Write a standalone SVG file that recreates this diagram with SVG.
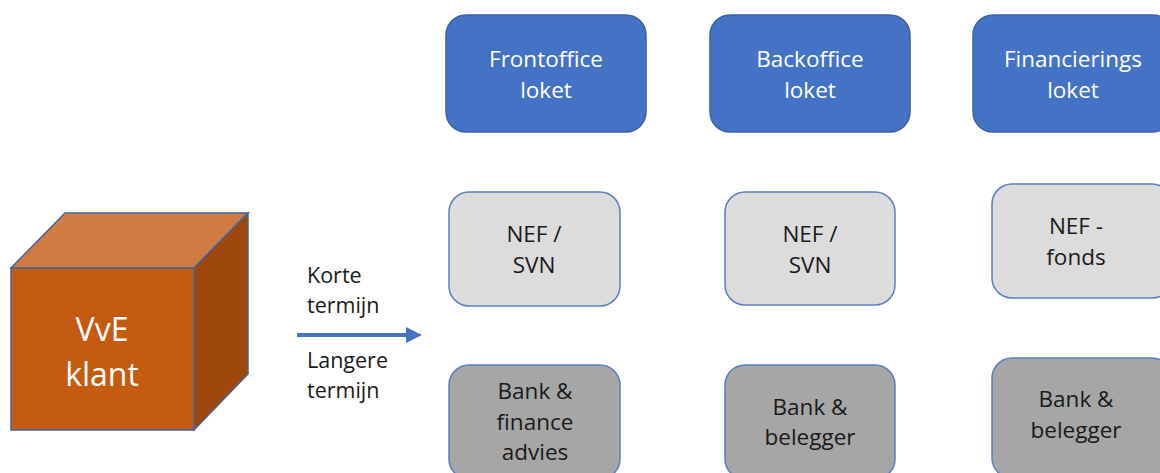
<svg xmlns="http://www.w3.org/2000/svg" width="1160" height="473" viewBox="0 0 1160 473">
<style>
.t{font-family:"Open Sans","Liberation Sans",sans-serif;text-anchor:middle;}
.w{fill:#ffffff;font-size:22.5px;}
.k{fill:#1a1a1a;font-size:22.5px;}
.blue{fill:#4472C4;stroke:#3A62A8;stroke-width:1.5;}
.lg{fill:#DCDCDC;stroke:#5B7FBF;stroke-width:1.5;}
.dg{fill:#A6A6A6;stroke:#5B7FBF;stroke-width:1.5;}
.lbl{font-family:"Open Sans","Liberation Sans",sans-serif;fill:#1a1a1a;font-size:21.5px;}
</style>
<rect width="1160" height="473" fill="#ffffff"/>
<g id="vve">
<polygon points="11,268 65,213 248,213 194,268" fill="#D07B41" stroke="#41659F" stroke-width="1.5"/>
<polygon points="194,268 248,213 248,374 194,430" fill="#9E480E" stroke="#41659F" stroke-width="1.5"/>
<rect x="11" y="268" width="183" height="162" fill="#C55A11" stroke="#41659F" stroke-width="1.5"/>
<text class="t" x="102" y="341" fill="#ffffff" font-size="32">VvE</text>
<text class="t" x="102" y="386" fill="#ffffff" font-size="32">klant</text>
</g>
<g id="frontoffice">
<rect class="blue" x="446" y="15" width="200" height="117" rx="20"/>
<text class="t w" x="546" y="67">Frontoffice</text>
<text class="t w" x="546" y="98">loket</text>
</g>
<g id="backoffice">
<rect class="blue" x="710" y="15" width="200" height="117" rx="20"/>
<text class="t w" x="810" y="67">Backoffice</text>
<text class="t w" x="810" y="98">loket</text>
</g>
<g id="financierings">
<rect class="blue" x="973" y="15" width="200" height="117" rx="20"/>
<text class="t w" x="1073" y="67">Financierings</text>
<text class="t w" x="1073" y="98">loket</text>
</g>
<g id="nef1">
<rect class="lg" x="449" y="192" width="171" height="114" rx="20"/>
<text class="t k" x="534" y="242">NEF /</text>
<text class="t k" x="534" y="273">SVN</text>
</g>
<g id="nef2">
<rect class="lg" x="725" y="192" width="170" height="113" rx="20"/>
<text class="t k" x="810" y="242">NEF /</text>
<text class="t k" x="810" y="273">SVN</text>
</g>
<g id="nef3">
<rect class="lg" x="992" y="184" width="180" height="114" rx="20"/>
<text class="t k" x="1076" y="234">NEF -</text>
<text class="t k" x="1076" y="265">fonds</text>
</g>
<g id="bank1">
<rect class="dg" x="449" y="365" width="171" height="114" rx="20"/>
<text class="t k" x="535" y="399">Bank &amp;</text>
<text class="t k" x="535" y="430">finance</text>
<text class="t k" x="535" y="460">advies</text>
</g>
<g id="bank2">
<rect class="dg" x="725" y="365" width="170" height="114" rx="20"/>
<text class="t k" x="810" y="415">Bank &amp;</text>
<text class="t k" x="810" y="445">belegger</text>
</g>
<g id="bank3">
<rect class="dg" x="992" y="358" width="180" height="120" rx="20"/>
<text class="t k" x="1076" y="407">Bank &amp;</text>
<text class="t k" x="1076" y="438">belegger</text>
</g>
<g id="connectors">
<line x1="297" y1="335" x2="410" y2="335" stroke="#4472C4" stroke-width="4"/>
<path d="M406,327 L422,335 L406,343 z" fill="#4472C4"/>
</g>
<g id="labels">
<text class="lbl" x="307" y="283">Korte</text>
<text class="lbl" x="307" y="313">termijn</text>
<text class="lbl" x="307" y="368">Langere</text>
<text class="lbl" x="307" y="398">termijn</text>
</g>
</svg>
